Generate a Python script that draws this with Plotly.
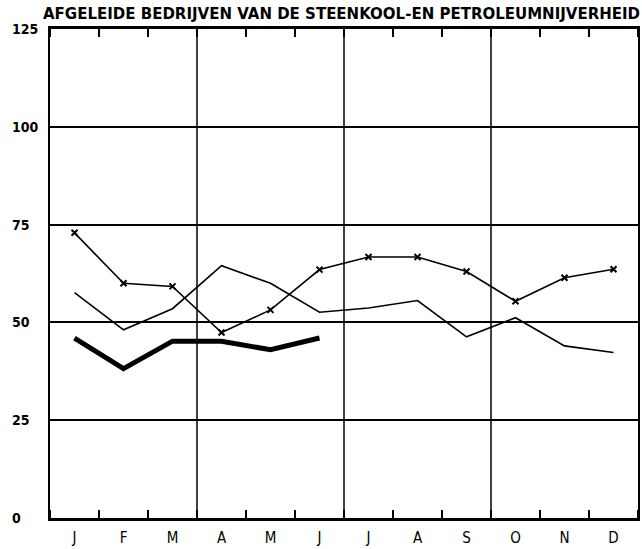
import plotly.graph_objects as go

months = ["J", "F", "M", "A", "M", "J", "J", "A", "S", "O", "N", "D"]
series_x_marked = [72.9, 60.0, 59.2, 47.4, 53.2, 63.5, 66.7, 66.7, 63.0, 55.4, 61.4, 63.6]
series_thin = [57.6, 48.1, 53.5, 64.5, 60.0, 52.6, 53.7, 55.6, 46.3, 51.2, 44.0, 42.3]
series_thick = [46.0, 38.2, 45.2, 45.2, 43.0, 46.0]
y_ticks = [0, 25, 50, 75, 100, 125]
y_tick_labels = ["0", "25", "50", "75", "100", "125"]
quarter_bounds = [3.5, 6.5, 9.5]
title_text = "AFGELEIDE BEDRIJVEN VAN DE STEENKOOL-EN PETROLEUMNIJVERHEID"

xpos = list(range(1, len(months) + 1))
FONT = "DejaVu Sans Condensed, Liberation Sans Narrow, DejaVu Sans, sans-serif"
TFONT = "DejaVu Sans, sans-serif"

fig = go.Figure()
fig.add_trace(go.Scatter(x=xpos, y=series_x_marked, mode="lines+markers",
                         line=dict(color="black", width=1.6),
                         marker=dict(symbol="x-thin-open", size=6, color="black",
                                     line=dict(width=2, color="black"))))
fig.add_trace(go.Scatter(x=xpos, y=series_thin, mode="lines",
                         line=dict(color="black", width=1.6)))
fig.add_trace(go.Scatter(x=xpos[:len(series_thick)], y=series_thick, mode="lines",
                         line=dict(color="black", width=5)))

for q in quarter_bounds:
    fig.add_shape(type="line", x0=q, x1=q, y0=0, y1=1, xref="x", yref="paper",
                  line=dict(color="black", width=1.5), layer="below")

L, R, T, B = 50, 4, 29, 31
plot_w = 642 - L - R
for v, t in zip(y_ticks, y_tick_labels):
    fig.add_annotation(x=(10 - L) / plot_w, y=v, xref="paper", yref="y", text=t,
                       showarrow=False, xanchor="left", yanchor="middle",
                       font=dict(family=FONT, size=14, color="black", weight="bold"))

fig.update_layout(
    width=642, height=549, showlegend=False,
    paper_bgcolor="white", plot_bgcolor="white",
    margin=dict(l=L, r=R, t=T, b=B, autoexpand=False),
    title=dict(text=title_text, x=43 / 642, xanchor="left", xref="container",
               y=1 - 14 / 549, yanchor="middle", yref="container", automargin=False,
               font=dict(family=TFONT, size=15, color="black", weight="bold")),
    xaxis=dict(range=[0.5, 12.5], tickmode="array", tickvals=xpos, ticktext=months,
               ticks="", showgrid=False, zeroline=False, showline=True,
               linecolor="black", linewidth=2.5, mirror="ticks", automargin=False,
               ticklabelstandoff=4,
               tickfont=dict(family=FONT, size=15, color="black"),
               minor=dict(ticks="inside", ticklen=8, tickwidth=1.5, tickcolor="black",
                          tickmode="linear", tick0=0.5, dtick=1, showgrid=False)),
    yaxis=dict(range=[0, 125], tickmode="array", tickvals=y_ticks, automargin=False,
               showticklabels=False, ticks="", showgrid=True, gridcolor="black",
               gridwidth=2, zeroline=False, showline=True, linecolor="black",
               linewidth=1.5, mirror=True),
)

fig.write_html("out.html", config={"displayModeBar": False},
               post_script="document.body.style.margin='0';document.body.style.padding='0';")
